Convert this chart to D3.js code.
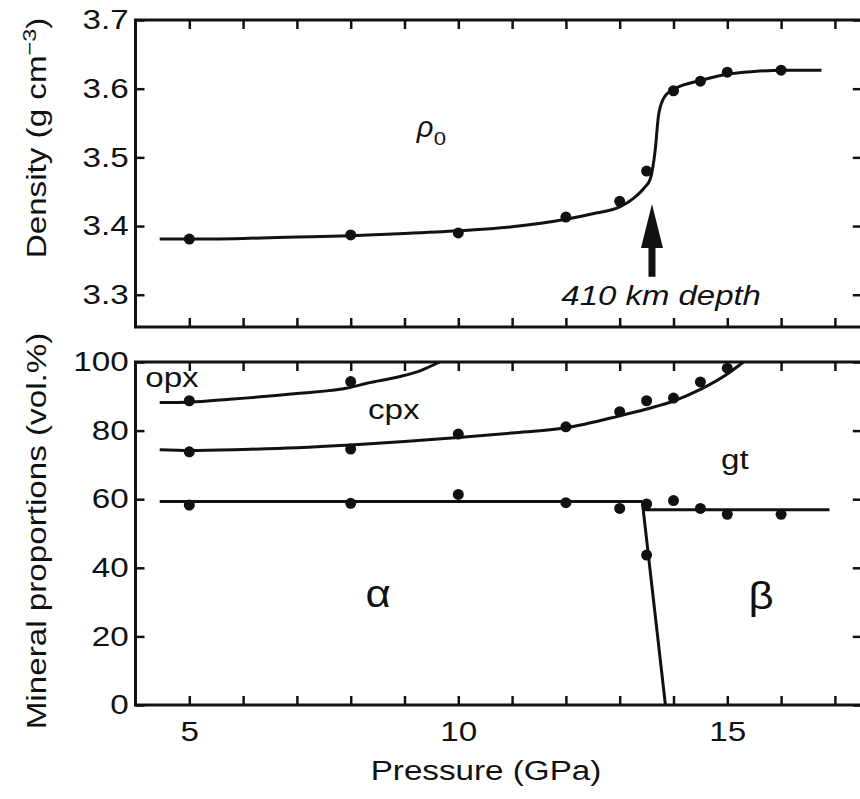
<!DOCTYPE html>
<html>
<head>
<meta charset="utf-8">
<script src="https://cdn.jsdelivr.net/npm/d3@7/dist/d3.min.js"></script>
<style>
  html, body { margin: 0; padding: 0; background: #fff; }
  svg { display: block; }
  text { font-family: "Liberation Sans", Arial, Helvetica, sans-serif; fill: #111; }
</style>
</head>
<body>
<svg id="chart" width="860" height="799"></svg>
<script>
// ---- measured data ----------------------------------------------------
const pressure = [5, 8, 10, 12, 13, 13.5, 14, 14.5, 15, 16];           // GPa
const density  = [3.381, 3.387, 3.390, 3.413, 3.436, 3.480, 3.597, 3.611, 3.624, 3.627]; // g cm^-3

// mineral proportion boundaries (cumulative vol.%); null = not measured / off scale
const olivineTotal = [58.3, 58.8, 61.4, 59.0, 57.3, 58.6, 59.6, 57.3, 55.6, 55.6];
const garnetTop    = [73.8, 74.6, 79.0, 81.1, 85.5, 88.7, 89.5, 94.2, 98.2, null];
const cpxTop       = [88.7, 94.3, null, null, null, null, null, null, null, null];
const alphaP = [13.5];
const alphaV = [43.7];

// ---- fitted model curves ------------------------------------------------
const densityFitP = [4.45, 5, 6, 7, 8, 9, 10, 11, 12, 12.5, 13, 13.25, 13.45, 13.57, 13.66, 13.72, 13.81, 13.9, 14.05, 14.5, 15, 15.5, 16, 16.75];
const densityFitV = [3.381, 3.381, 3.382, 3.384, 3.386, 3.389, 3.393, 3.399, 3.410, 3.418, 3.428, 3.440, 3.455, 3.469, 3.511, 3.560, 3.585, 3.594, 3.601, 3.612, 3.621, 3.625, 3.627, 3.627];

const opxFitP = [4.45, 5, 5.8, 7, 8, 8.3, 8.9, 9.3, 9.65];
const opxFitV = [88.2, 88.3, 89.2, 90.8, 92.6, 93.8, 95.7, 97.5, 100];

const gtFitP = [4.45, 5, 6, 7, 8, 9, 10, 11, 12, 13, 13.5, 14, 14.5, 15, 15.3];
const gtFitV = [74.4, 74.2, 74.5, 75.0, 75.8, 76.8, 78.0, 79.3, 80.8, 84.3, 86.3, 88.6, 92.0, 96.5, 100];

const olLowFitP = [4.45, 13.42];
const olLowFitV = [59.3, 59.3];
const olHighFitP = [13.44, 16.9];
const olHighFitV = [56.9, 56.9];
const alphaBetaP = [13.42, 13.85];
const alphaBetaV = [59.3, 0];

// ---- ticks -------------------------------------------------------------
const pressureTicks = d3.range(5, 18, 1);
const pressureTickLabels = [5, 10, 15];
const densityTicks = [3.3, 3.4, 3.5, 3.6, 3.7];
const proportionTicks = [0, 20, 40, 60, 80, 100];

// ---- layout ------------------------------------------------------------
const svg = d3.select("#chart");
const SX = 1.23;            // glyph widening used for all sans labels
const FS = 27;

const x = d3.scaleLinear().domain([4, 17.5]).range([135.5, 861.8]);
const yTop = d3.scaleLinear().domain([3.253, 3.7]).range([327, 20]);
const yBot = d3.scaleLinear().domain([0, 100]).range([705, 362]);

const zip = (a, b) => a.map((v, i) => [v, b[i]]);
const fitLine = (ys) => d3.line().x(d => x(d[0])).y(d => ys(d[1])).curve(d3.curveMonotoneX);

function label(g, px, py, str, opt = {}) {
  const t = g.append("text")
    .attr("transform", `translate(${px},${py})` + (opt.rotate ? ` rotate(${opt.rotate})` : "") + ` scale(${opt.sx ?? SX},1)`)
    .attr("text-anchor", opt.anchor ?? "middle")
    .attr("font-size", opt.size ?? FS)
    .text(str);
  if (opt.italic) t.attr("font-style", "italic");
  if (opt.family) t.attr("font-family", opt.family);
  return t;
}

function styleAxis(g, withLabels) {
  g.select(".domain").remove();
  g.selectAll(".tick line").attr("stroke", "#111").attr("stroke-width", 2.5);
  g.selectAll(".tick text")
    .attr("font-size", FS)
    .attr("font-family", "\"Liberation Sans\", Arial, sans-serif")
    .attr("fill", "#111");
  if (withLabels) g.selectAll(".tick text").attr("transform", `scale(${SX},1)`);
}

function frame(yScale) {
  const [y0, y1] = yScale.range();
  svg.append("rect")
    .attr("x", x.range()[0]).attr("y", y1)
    .attr("width", x.range()[1] - x.range()[0]).attr("height", y0 - y1)
    .attr("fill", "none").attr("stroke", "#111").attr("stroke-width", 3);
}

function panelAxes(yScale, yTicks, yFmt, showX) {
  const [y0, y1] = yScale.range();
  const [x0, x1] = x.range();
  const gl = svg.append("g").attr("transform", `translate(${x0},0)`)
    .call(d3.axisLeft(yScale).tickValues(yTicks).tickSize(-9).tickPadding(5.6).tickFormat(yFmt));
  styleAxis(gl, true);
  const gr = svg.append("g").attr("transform", `translate(${x1},0)`)
    .call(d3.axisRight(yScale).tickValues(yTicks).tickSize(-9).tickFormat(""));
  styleAxis(gr, false);
  const gt = svg.append("g").attr("transform", `translate(0,${y1})`)
    .call(d3.axisTop(x).tickValues(pressureTicks).tickSize(-9).tickFormat(""));
  styleAxis(gt, false);
  const gb = svg.append("g").attr("transform", `translate(0,${y0})`)
    .call(d3.axisBottom(x).tickValues(pressureTicks).tickSize(-9).tickPadding(16.5)
      .tickFormat(d => showX && pressureTickLabels.includes(d) ? d : ""));
  styleAxis(gb, true);
}

// ---- upper panel: density ------------------------------------------------
frame(yTop);
panelAxes(yTop, densityTicks, d3.format(".1f"), false);

svg.append("path")
  .attr("d", fitLine(yTop)(zip(densityFitP, densityFitV)))
  .attr("fill", "none").attr("stroke", "#111").attr("stroke-width", 3);

svg.append("g").selectAll("circle")
  .data(zip(pressure, density))
  .join("circle")
  .attr("cx", d => x(d[0])).attr("cy", d => yTop(d[1])).attr("r", 5.5).attr("fill", "#111");

// 410 km arrow
const arrowP = 13.6, arrowTip = 3.432, arrowHead = 3.368, arrowTail = 3.326;
{
  const ax = x(arrowP), tip = yTop(arrowTip), hb = yTop(arrowHead), tl = yTop(arrowTail);
  svg.append("path")
    .attr("d", `M${ax},${tip} L${ax + 11},${hb} L${ax + 3.5},${hb} L${ax + 3.5},${tl} L${ax - 3.5},${tl} L${ax - 3.5},${hb} L${ax - 11},${hb} Z`)
    .attr("fill", "#111");
}
label(svg, x(13.77), yTop(3.285), "410 km depth", { italic: true, sx: 1.22 });

// rho_0 label
{
  const g = svg.append("g");
  g.append("text")
    .attr("transform", `translate(${x(9.23)},${yTop(3.53)})`)
    .attr("font-family", "\"Liberation Serif\", \"Times New Roman\", serif")
    .attr("font-style", "italic").attr("font-size", 29).text("ρ");
  label(g, x(9.23) + 17, yTop(3.53) + 8, "0", { anchor: "start", size: 18 });
}

// y title
{
  const t = label(svg, 46, 138, "", { rotate: -90 });
  t.append("tspan").text("Density (g cm");
  t.append("tspan").attr("font-size", 19).attr("dy", -10).text("−3");
  t.append("tspan").attr("dy", 10).text(")");
}

// ---- lower panel: mineral proportions -------------------------------------
frame(yBot);
panelAxes(yBot, proportionTicks, d3.format("d"), true);

const lineStyle = sel => sel.attr("fill", "none").attr("stroke", "#111").attr("stroke-width", 3);
svg.append("path").attr("d", fitLine(yBot)(zip(opxFitP, opxFitV))).call(lineStyle);
svg.append("path").attr("d", fitLine(yBot)(zip(gtFitP, gtFitV))).call(lineStyle);
svg.append("path").attr("d", d3.line().x(d => x(d[0])).y(d => yBot(d[1]))(zip(olLowFitP, olLowFitV))).call(lineStyle);
svg.append("path").attr("d", d3.line().x(d => x(d[0])).y(d => yBot(d[1]))(zip(olHighFitP, olHighFitV))).call(lineStyle);
svg.append("path").attr("d", d3.line().x(d => x(d[0])).y(d => yBot(d[1]))(zip(alphaBetaP, alphaBetaV))).call(lineStyle);

const lowerPts = []
  .concat(zip(pressure, olivineTotal))
  .concat(zip(pressure, garnetTop))
  .concat(zip(pressure, cpxTop))
  .concat(zip(alphaP, alphaV))
  .filter(d => d[1] != null);
svg.append("g").selectAll("circle")
  .data(lowerPts)
  .join("circle")
  .attr("cx", d => x(d[0])).attr("cy", d => yBot(d[1])).attr("r", 5.5).attr("fill", "#111");

// phase labels
label(svg, x(4.18), yBot(92.7), "opx", { anchor: "start" });
label(svg, x(8.8), yBot(83.4), "cpx");
label(svg, x(15.14), yBot(68.8), "gt");
label(svg, x(8.51), yBot(28.6), "α", { family: "\"Liberation Serif\", \"Times New Roman\", serif", size: 38, sx: 1.15 });
label(svg, x(15.63), yBot(28.0), "β", { family: "\"Liberation Serif\", \"Times New Roman\", serif", size: 38, sx: 1.15 });

label(svg, 46, 531, "Mineral proportions (vol.%)", { rotate: -90 });
label(svg, 486, 780, "Pressure (GPa)");
</script>
</body>
</html>
